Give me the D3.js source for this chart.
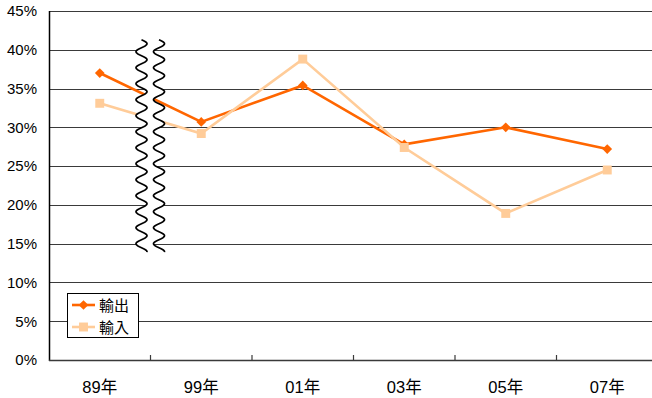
<!DOCTYPE html>
<html>
<head>
<meta charset="utf-8">
<script src="https://cdn.jsdelivr.net/npm/d3@7"></script>
<style>
  html, body { margin: 0; padding: 0; background: #fff; }
  svg { display: block; font-family: "Liberation Sans", Arial, "Noto Sans CJK TC", sans-serif; }
</style>
</head>
<body>
<svg id="chart" width="652" height="398"></svg>
<script>
// Years on the category axis
const years = ["89年", "99年", "01年", "03年", "05年", "07年"];
// Share (%) per year
const exportShare = [37.0, 30.7, 35.4, 27.8, 30.0, 27.2];   // 輸出
const importShare = [33.1, 29.2, 38.8, 27.4, 18.9, 24.5];   // 輸入
const yTicks = [0, 5, 10, 15, 20, 25, 30, 35, 40, 45];
const seriesNames = ["輸出", "輸入"];

const svg = d3.select("#chart");
const plotLeft = 49, plotRight = 658, plotTop = 11, plotBottom = 360;

const x = d3.scaleBand().domain(years).range([plotLeft, plotRight]);
const y = d3.scaleLinear().domain([0, 45]).range([plotBottom, plotTop]);

// Horizontal grid lines
svg.append("g")
  .selectAll("line")
  .data(yTicks.filter(d => d > 0))
  .join("line")
  .attr("x1", plotLeft).attr("x2", 652)
  .attr("y1", d => Math.round(y(d)) + 0.5).attr("y2", d => Math.round(y(d)) + 0.5)
  .attr("stroke", "#3a3a3a").attr("stroke-width", 1.2);

// Y axis labels
const yAxis = d3.axisLeft(y).tickValues(yTicks).tickFormat(d => d + "%").tickSize(0).tickPadding(12);
const gy = svg.append("g").attr("transform", `translate(${plotLeft},0)`).call(yAxis);
gy.select(".domain").remove();
gy.selectAll("text").attr("font-size", 15).attr("fill", "#000")
  .attr("font-family", "'Liberation Sans', Arial, sans-serif");

// Y axis line
svg.append("line")
  .attr("x1", plotLeft + 0.5).attr("x2", plotLeft + 0.5)
  .attr("y1", plotTop).attr("y2", plotBottom + 1)
  .attr("stroke", "#000").attr("stroke-width", 1.5);

// X axis: baseline, inward ticks at category boundaries, labels centred
const gx = svg.append("g").attr("transform", `translate(0,${plotBottom})`);
gx.append("line").attr("x1", plotLeft).attr("x2", 652).attr("y1", 0.5).attr("y2", 0.5)
  .attr("stroke", "#3a3a3a").attr("stroke-width", 1.6);
gx.selectAll("line.tick")
  .data(years.slice(1))
  .join("line").attr("class", "tick")
  .attr("x1", d => x(d)).attr("x2", d => x(d))
  .attr("y1", 0).attr("y2", -5)
  .attr("stroke", "#3a3a3a").attr("stroke-width", 1.2);
gx.selectAll("text")
  .data(years)
  .join("text")
  .attr("x", d => x(d) + x.bandwidth() / 2)
  .attr("y", 33)
  .attr("text-anchor", "middle")
  .attr("font-size", 16.5)
  .attr("fill", "#000")
  .text(d => d);

const cx = d => x(d) + x.bandwidth() / 2;
const line = d3.line().x(d => cx(d.year)).y(d => y(d.v));

const seriesData = [
  { name: seriesNames[0], color: "#FF6600", values: years.map((yr, i) => ({ year: yr, v: exportShare[i] })), marker: "diamond" },
  { name: seriesNames[1], color: "#FFCC99", values: years.map((yr, i) => ({ year: yr, v: importShare[i] })), marker: "square" }
];

function markerPath(s) {
  return d3.symbol().type(s.marker === "diamond" ? d3.symbolDiamond2 : d3.symbolSquare)
    .size(s.marker === "diamond" ? 60 : 80)();
}

function drawSeries(s) {
  const g = svg.append("g");
  g.append("path").datum(s.values)
    .attr("d", line).attr("fill", "none")
    .attr("stroke", s.color).attr("stroke-width", 2.6).attr("stroke-linejoin", "miter");
  g.selectAll("path.m").data(s.values).join("path").attr("class", "m")
    .attr("transform", d => `translate(${cx(d.year)},${y(d.v)})`)
    .attr("d", markerPath(s)).attr("fill", s.color);
}
drawSeries(seriesData[0]);
drawSeries(seriesData[1]);

// Axis break between the first two categories
const bx = x(years[1]);
const by0 = y(41.3), by1 = y(13.9);
const amp = 5.5, period = 16;
function wavePts(cxw) {
  const pts = [];
  for (let t = by0; t <= by1 + 0.01; t += 0.5) {
    pts.push([cxw + amp * Math.sin((t - by0) / period * 2 * Math.PI), t]);
  }
  return pts;
}
const leftWave = wavePts(bx - 9);
const rightWave = wavePts(bx + 8.5);
svg.append("path")
  .attr("d", d3.line()(leftWave.concat(rightWave.slice().reverse())) + "Z")
  .attr("fill", "#fff").attr("stroke", "none");
[leftWave, rightWave].forEach(w => {
  svg.append("path").attr("d", d3.line()(w))
    .attr("fill", "none").attr("stroke", "#000").attr("stroke-width", 1.7);
});

// Legend
const lg = svg.append("g").attr("transform", "translate(67,293)");
lg.append("rect").attr("x", 0.5).attr("y", 0.5).attr("width", 71).attr("height", 44)
  .attr("fill", "#fff").attr("stroke", "#000").attr("stroke-width", 1);
seriesData.forEach((s, i) => {
  const ly = 12 + i * 22;
  lg.append("line").attr("x1", 5).attr("x2", 28).attr("y1", ly).attr("y2", ly)
    .attr("stroke", s.color).attr("stroke-width", 2.6);
  lg.append("path")
    .attr("transform", `translate(16.5,${ly})`)
    .attr("d", markerPath(s))
    .attr("fill", s.color);
  lg.append("text").attr("x", 32).attr("y", ly + 5.5)
    .attr("font-size", 15)
    .attr("font-family", "'Noto Sans CJK TC', sans-serif")
    .attr("fill", "#000")
    .text(s.name);
});
</script>
</body>
</html>
